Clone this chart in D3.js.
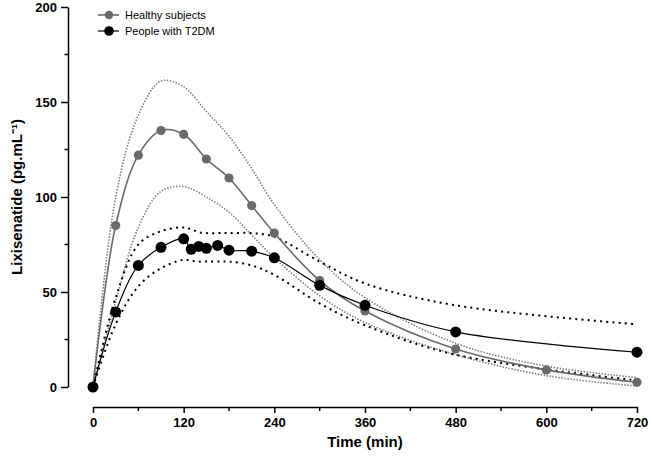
<!DOCTYPE html>
<html>
<head>
<meta charset="utf-8">
<script src="https://cdn.jsdelivr.net/npm/d3@7"></script>
<style>
  body { margin: 0; background: #fff; }
  svg { display: block; font-family: Arial, "Liberation Sans", sans-serif; }
</style>
</head>
<body>
<svg id="chart" width="651" height="458"></svg>
<script>
// ---- data ----
const healthyTime = [0, 30, 60, 90, 120, 150, 180, 210, 240, 300, 360, 480, 600, 720];
const healthyMean = [0, 85, 122, 135, 133, 120, 110, 95.5, 81, 56, 40, 20, 9, 2.5];
const healthyUpper = [0, 100, 143, 161, 158, 145, 132, 115, 96, 67, 47, 23, 11, 5];
const healthyLower = [0, 45, 84, 103, 105.5, 100, 92, 80, 68, 48, 34, 17, 6, 0.5];

const t2dmTime = [0, 30, 60, 90, 120, 130, 140, 150, 165, 180, 210, 240, 300, 360, 480, 720];
const t2dmMean = [0, 39.5, 64, 73.5, 78, 72.5, 74, 73, 74.5, 72, 71.5, 68, 53.5, 43, 29, 18.3];
const t2dmUpper = [0, 47, 75, 82, 84, 83, 81.5, 81, 81, 81, 81, 79, 66, 54.5, 43, 33];
const t2dmLower = [0, 33, 53, 62.5, 67, 66.5, 66, 66, 66, 66, 64, 59, 44, 32.5, 17, 3.5];

const xTicks = [0, 120, 240, 360, 480, 600, 720];
const xMinorTicks = [60, 180, 300, 420, 540, 660];
const yTicks = [0, 50, 100, 150, 200];
const yMinorTicks = [25, 75, 125, 175];

const seriesNames = ["Healthy subjects", "People with T2DM"];
const grey = "#6a6a6a";
const black = "#000000";

// ---- chart ----
const svg = d3.select("#chart");
const x = d3.scaleLinear().domain([0, 720]).range([93, 637]);
const y = d3.scaleLinear().domain([0, 200]).range([387, 7]);

const zip = (ts, vs) => ts.map((t, i) => [t, vs[i]]);
const line = d3.line().x(d => x(d[0])).y(d => y(d[1])).curve(d3.curveCatmullRom.alpha(0.5));

// bands (dotted)
const bandG = svg.append("g").attr("fill", "none");
[healthyUpper, healthyLower].forEach(v => {
  bandG.append("path").attr("d", line(zip(healthyTime, v)))
    .attr("stroke", "#7a7a7a").attr("stroke-width", 1.6)
    .attr("stroke-dasharray", "1.4,1.6");
});
[t2dmUpper, t2dmLower].forEach(v => {
  bandG.append("path").attr("d", line(zip(t2dmTime, v)))
    .attr("stroke", black).attr("stroke-width", 2)
    .attr("stroke-dasharray", "2,4.2");
});

// mean lines
svg.append("path").attr("d", line(zip(healthyTime, healthyMean)))
  .attr("fill", "none").attr("stroke", grey).attr("stroke-width", 1.6);
svg.append("path").attr("d", line(zip(t2dmTime, t2dmMean)))
  .attr("fill", "none").attr("stroke", black).attr("stroke-width", 1.2);

// markers
svg.append("g").selectAll("circle").data(zip(healthyTime, healthyMean)).join("circle")
  .attr("cx", d => x(d[0])).attr("cy", d => y(d[1])).attr("r", 4.6).attr("fill", grey);
svg.append("g").selectAll("circle").data(zip(t2dmTime, t2dmMean)).join("circle")
  .attr("cx", d => x(d[0])).attr("cy", d => y(d[1])).attr("r", 5.5).attr("fill", black);

// axes
const xAxisY = 407;
const yAxisX = 68;
const xAxis = svg.append("g").attr("transform", `translate(0,${xAxisY})`)
  .call(d3.axisBottom(x).tickValues(xTicks).tickSize(6).tickSizeOuter(0).tickPadding(5));
xAxis.append("g").selectAll("line").data(xMinorTicks).join("line")
  .attr("x1", d => x(d)).attr("x2", d => x(d)).attr("y1", 0).attr("y2", 4)
  .attr("stroke", "#000").attr("stroke-width", 1.5);

const yAxis = svg.append("g").attr("transform", `translate(${yAxisX},0)`)
  .call(d3.axisLeft(y).tickValues(yTicks).tickSize(7).tickSizeOuter(0).tickPadding(4));
yAxis.append("g").selectAll("line").data(yMinorTicks).join("line")
  .attr("y1", d => y(d)).attr("y2", d => y(d)).attr("x1", 0).attr("x2", -3.5)
  .attr("stroke", "#000").attr("stroke-width", 1.5);

[xAxis, yAxis].forEach(a => {
  a.select(".domain").attr("stroke", "#000").attr("stroke-width", 1.5);
  a.selectAll(".tick line").attr("stroke", "#000").attr("stroke-width", 1.5);
  a.selectAll(".tick text").attr("font-size", 13).attr("font-weight", "bold")
    .attr("fill", "#000").attr("font-family", "Arial, 'Liberation Sans', sans-serif");
});

// axis titles
svg.append("text").attr("x", 365).attr("y", 447).attr("text-anchor", "middle")
  .attr("font-size", 15).attr("font-weight", "bold").text("Time (min)");
svg.append("text").attr("transform", "translate(22,197) rotate(-90)")
  .attr("text-anchor", "middle").attr("font-size", 15).attr("font-weight", "bold")
  .text("Lixisenatide (pg.mL⁻¹)");

// legend
const legend = svg.append("g");
const legendRows = [
  { name: seriesNames[0], color: grey, r: 4.2, w: 1.6, yy: 15 },
  { name: seriesNames[1], color: black, r: 4.8, w: 1.2, yy: 31 }
];
legendRows.forEach(d => {
  legend.append("line").attr("x1", 98).attr("x2", 119).attr("y1", d.yy).attr("y2", d.yy)
    .attr("stroke", d.color).attr("stroke-width", d.w);
  legend.append("circle").attr("cx", 109).attr("cy", d.yy).attr("r", d.r).attr("fill", d.color);
  legend.append("text").attr("x", 125).attr("y", d.yy).attr("dy", "0.35em")
    .attr("font-size", 11).attr("fill", "#000").text(d.name);
});
</script>
</body>
</html>
